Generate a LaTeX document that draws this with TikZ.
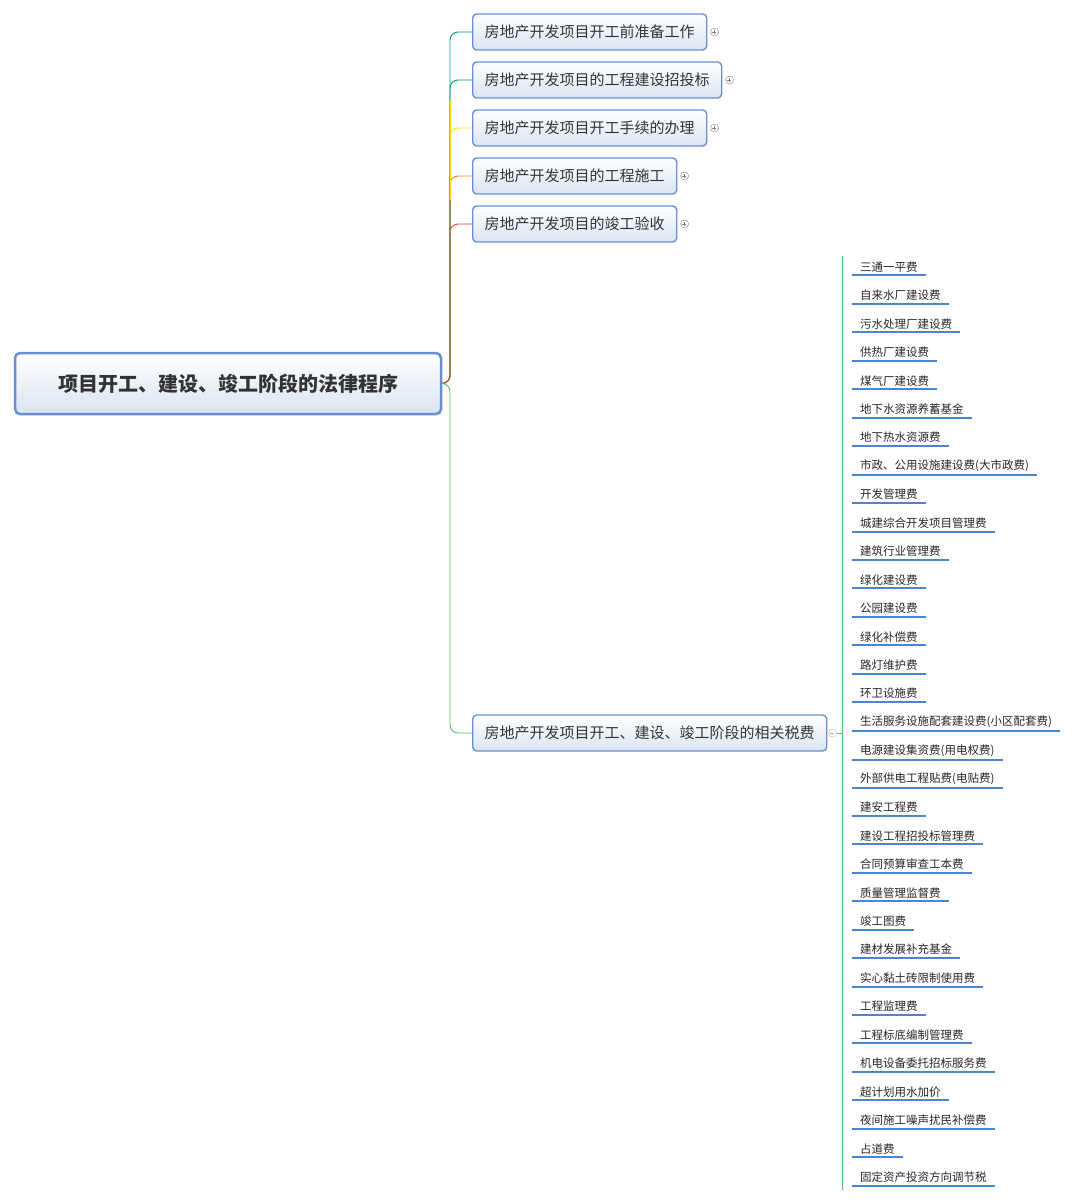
\documentclass[tikz,border=0pt]{standalone}
\usepackage{fontspec}
\setmainfont{Noto Sans CJK SC}
\usetikzlibrary{positioning}
\definecolor{boxline}{HTML}{6A8FD0}
\definecolor{boxfill}{HTML}{DAE4F2}
\definecolor{leafline}{HTML}{4A86D0}
\definecolor{stem}{HTML}{5CBF6A}
\definecolor{redline}{HTML}{E8413A}
\tikzset{
  root box/.style={
    draw=boxline, line width=2.5pt, rounded corners=5pt,
    top color=white, bottom color=boxfill,
    minimum width=426pt, minimum height=61pt,
    font=\fontsize{20}{24}\selectfont\bfseries, text=black!80,
  },
  topic box/.style={
    draw=boxline, line width=1.4pt, rounded corners=4pt,
    top color=white, bottom color=boxfill,
    minimum height=36pt, inner xsep=12pt, anchor=west,
    font=\fontsize{15}{18}\selectfont, text=black!80,
  },
  leaf/.style={
    anchor=west, inner xsep=8pt, inner ysep=3pt,
    font=\fontsize{11.5}{13}\selectfont, text=black!85,
  },
  branch/.style={line width=0.9pt, rounded corners=8pt},
  fold/.style={draw=gray, fill=white, circle, inner sep=0pt, minimum size=8pt},
}
\begin{document}
\begin{tikzpicture}[x=1pt, y=-1pt]
    \useasboundingbox (0,0) rectangle (1080,1204);
    \node [root box] (root) at (228,383.5) {项目开工、建设、竣工阶段的法律程序};

    \node [topic box] (t1) at (472,32) {房地产开发项目开工前准备工作};
    \node [topic box] (t2) at (472,80) {房地产开发项目的工程建设招投标};
    \node [topic box] (t3) at (472,128) {房地产开发项目开工手续的办理};
    \node [topic box] (t4) at (472,176) {房地产开发项目的工程施工};
    \node [topic box] (t5) at (472,224) {房地产开发项目的竣工验收};
    \node [topic box] (t6) at (472,733) {房地产开发项目开工、建设、竣工阶段的相关税费};

    % connectors from the root
    \draw [branch, redline] (root.east) -| (450,300) |- (t5.west);
    \draw [branch, orange] (root.east) -| (450,300) |- (t4.west);
    \draw [branch, yellow!90!orange] (root.east) -| (450,250) |- (t3.west);
    \draw [branch, teal!70!green] (root.east) -| (450,200) |- (t2.west);
    \draw [branch, teal!80!cyan] (root.east) -| (450,100) |- (t1.west);
    \draw [branch, redline] (root.east) -| (450,300) -- (450,200);
    \draw [branch, yellow!90!orange] (450,200) -- (450,100);
    \draw [branch, stem] (root.east) -| (450,450) |- (t6.west);

    % fold markers
    \foreach \t in {t1,t2,t3,t4,t5} {
        \node [fold, right=3pt of \t.east] (f\t) {};
        \draw [gray, line width=0.5pt] (f\t.west) ++(2pt,0) -- ++(4pt,0)
            (f\t.north) ++(0,-2pt) -- ++(0,-4pt);
    }
    \node [fold, draw=gray!50, right=1pt of t6.east] (ft6) {};
    \draw [gray!60, line width=0.5pt] (ft6.west) ++(2pt,0) -- ++(4pt,0);

    % fee leaves
    \draw [stem, line width=0.8pt] (ft6.east) -- (842,733);
    \draw [stem, line width=0.8pt] (842,256) -- (842,1190);
    \foreach [count=\i from 0] \fee in {三通一平费, 自来水厂建设费, 污水处理厂建设费, 供热厂建设费,
        煤气厂建设费, 地下水资源养蓄基金, 地下热水资源费, {市政、公用设施建设费(大市政费)},
        开发管理费, 城建综合开发项目管理费, 建筑行业管理费, 绿化建设费, 公园建设费,
        绿化补偿费, 路灯维护费, 环卫设施费, 生活服务设施配套建设费(小区配套费),
        电源建设集资费(用电权费), 外部供电工程贴费(电贴费), 建安工程费, 建设工程招投标管理费,
        合同预算审查工本费, 质量管理监督费, 竣工图费, 建材发展补充基金, 实心黏土砖限制使用费,
        工程监理费, 工程标底编制管理费, 机电设备委托招标服务费, 超计划用水加价,
        夜间施工噪声扰民补偿费, 占道费, 固定资产投资方向调节税} {
        \node [leaf] (l\i) at (852,{267+28.44*\i}) {\fee};
        \draw [leafline, line width=2pt] (l\i.south west) -- (l\i.south east);
    }
\end{tikzpicture}
\end{document}
